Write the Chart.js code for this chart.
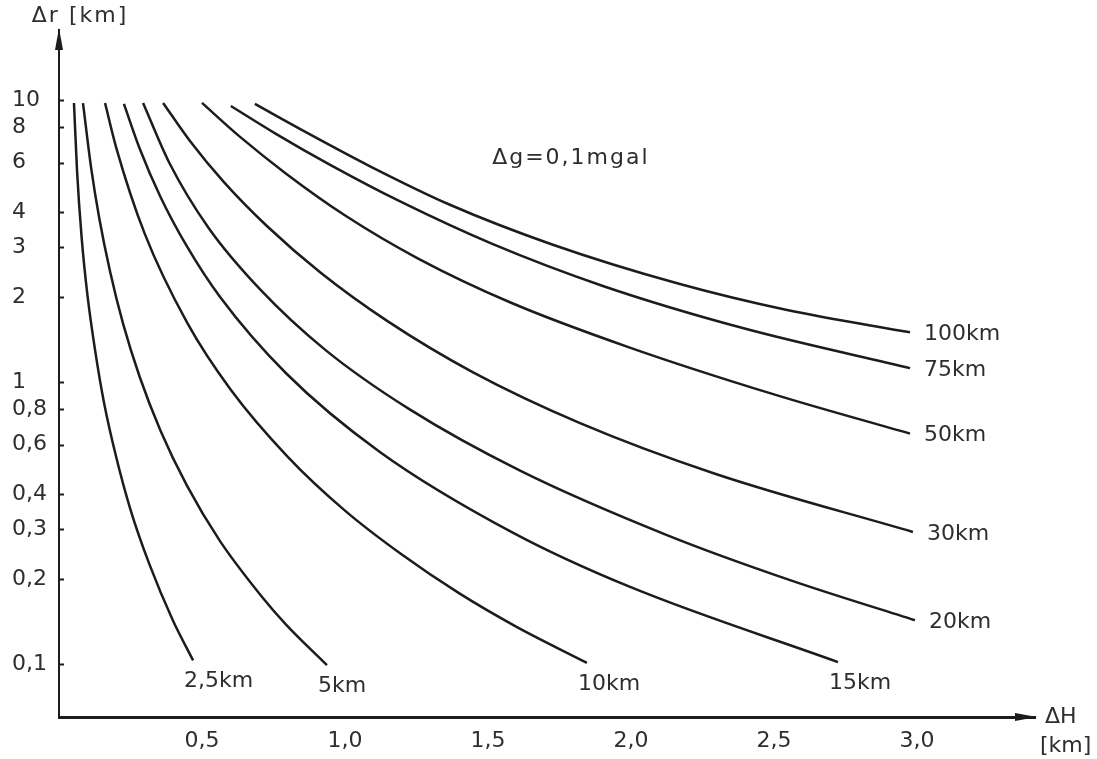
<!DOCTYPE html>
<html>
<head>
<meta charset="utf-8">
<script src="https://cdn.jsdelivr.net/npm/chart.js@4.4.1/dist/chart.umd.min.js"></script>
<style>
    html, body { margin: 0; padding: 0; background: #fff; }
    #wrap { width: 1097px; height: 759px; position: relative; }
</style>
</head>
<body>
<div id="wrap"><canvas id="chart"></canvas></div>
<script>
// tick values
const xTicks = [0.5, 1.0, 1.5, 2.0, 2.5, 3.0];
const yTicks = [10, 8, 6, 4, 3, 2, 1, 0.8, 0.6, 0.4, 0.3, 0.2, 0.1];

// curve names (distance)
const curveNames = ['2,5km', '5km', '10km', '15km', '20km', '30km', '50km', '75km', '100km'];

// dH [km] / dr [km], one pair per curve
const h2_5 = [0.0524, 0.0631, 0.0794, 0.100, 0.126, 0.158, 0.200, 0.251, 0.316, 0.398, 0.469];
const r2_5 = [9.75, 5.61, 3.23, 2.01, 1.30, 0.839, 0.542, 0.350, 0.226, 0.143, 0.103];

const h5 = [0.0839, 0.112, 0.141, 0.178, 0.224, 0.282, 0.355, 0.447, 0.562, 0.708, 0.794, 0.937];
const r5 = [9.75, 5.78, 3.80, 2.48, 1.61, 1.044, 0.672, 0.430, 0.274, 0.174, 0.138, 0.0991];

const h10 = [0.161, 0.200, 0.300, 0.450, 0.600, 0.800, 1.000, 1.200, 1.400, 1.600, 1.846];
const r10 = [9.75, 6.78, 3.35, 1.61, 0.941, 0.543, 0.350, 0.244, 0.178, 0.1355, 0.101];

const h15 = [0.227, 0.282, 0.355, 0.447, 0.562, 0.794, 1.122, 1.585, 1.995, 2.724];
const r15 = [9.68, 6.73, 4.53, 3.03, 2.01, 1.074, 0.565, 0.293, 0.188, 0.1016];

const h20 = [0.294, 0.387, 0.522, 0.705, 0.929, 1.225, 1.614, 2.128, 2.559, 2.993];
const r20 = [9.76, 5.95, 3.53, 2.12, 1.305, 0.801, 0.484, 0.286, 0.198, 0.143];

const h30 = [0.364, 0.458, 0.576, 0.726, 0.913, 1.150, 1.448, 1.822, 2.294, 2.986];
const r30 = [9.76, 7.15, 5.12, 3.58, 2.45, 1.64, 1.082, 0.715, 0.473, 0.294];

const h50 = [0.500, 0.630, 0.793, 0.998, 1.256, 1.581, 1.991, 2.506, 2.976];
const r50 = [9.76, 7.44, 5.49, 3.91, 2.74, 1.91, 1.33, 0.900, 0.656];

const h75 = [0.601, 0.757, 0.953, 1.200, 1.511, 1.902, 2.394, 2.976];
const r75 = [9.52, 7.60, 5.85, 4.33, 3.10, 2.19, 1.55, 1.12];

const h100 = [0.685, 0.863, 1.086, 1.367, 1.722, 2.168, 2.546, 2.976];
const r100 = [9.68, 7.69, 5.83, 4.25, 3.08, 2.23, 1.80, 1.50];

const curveH = [h2_5, h5, h10, h15, h20, h30, h50, h75, h100];
const curveR = [r2_5, r5, r10, r15, r20, r30, r50, r75, r100];

const INK = '#1c1c1c';
const TEXT = '#2e2e2e';
const FONT = '"DejaVu Sans", sans-serif';

function fmt(v) {
    return String(v).replace('.', ',');
}

const decorations = {
    id: 'decorations',
    afterDraw(chart) {
        const ctx = chart.ctx;
        const xs = chart.scales.x;
        const ys = chart.scales.y;
        const area = chart.chartArea;
        ctx.save();

        // small inward ticks on the y axis
        ctx.strokeStyle = INK;
        ctx.lineWidth = 2;
        yTicks.forEach(v => {
            const py = Math.round(ys.getPixelForValue(v)) + 0.5;
            ctx.beginPath();
            ctx.moveTo(area.left, py);
            ctx.lineTo(area.left + 5, py);
            ctx.stroke();
        });

        // arrow heads
        ctx.fillStyle = INK;
        ctx.beginPath();
        ctx.moveTo(area.left, area.top - 2);
        ctx.lineTo(area.left - 4, area.top + 20);
        ctx.lineTo(area.left + 4, area.top + 20);
        ctx.closePath();
        ctx.fill();

        ctx.beginPath();
        ctx.moveTo(area.right + 2, area.bottom);
        ctx.lineTo(area.right - 20, area.bottom - 4);
        ctx.lineTo(area.right - 20, area.bottom + 4);
        ctx.closePath();
        ctx.fill();

        // curve labels
        ctx.fillStyle = TEXT;
        ctx.font = '22px ' + FONT;
        ctx.textBaseline = 'middle';
        ctx.textAlign = 'left';
        curveNames.forEach((name, i) => {
            const h = curveH[i], r = curveR[i];
            const ex = xs.getPixelForValue(h[h.length - 1]);
            const ey = ys.getPixelForValue(r[r.length - 1]);
            if (h[h.length - 1] < 2.9) {
                ctx.fillText(name, ex - 9, ey + 21);
            } else {
                ctx.fillText(name, ex + 14, ey + 2);
            }
        });

        // annotation
        ctx.letterSpacing = '2px';
        ctx.textAlign = 'center';
        ctx.fillText('\u0394g=0,1mgal', xs.getPixelForValue(1.79), ys.getPixelForValue(6.2));
        ctx.fillText('\u0394r [km]', 80, 16);
        ctx.letterSpacing = '0px';

        // x axis title
        ctx.textAlign = 'left';
        ctx.fillText('\u0394H', area.right + 10, area.bottom);
        ctx.fillText('[km]', area.right + 5, area.bottom + 29);

        ctx.restore();
    }
};

const datasets = curveNames.map((name, i) => ({
    label: name,
    data: curveH[i].map((h, j) => ({ x: h, y: curveR[i][j] })),
    showLine: true,
    borderColor: INK,
    borderWidth: 2.5,
    pointRadius: 0,
    cubicInterpolationMode: 'monotone',
    fill: false
}));

new Chart(document.getElementById('chart'), {
    type: 'scatter',
    data: { datasets },
    options: {
        responsive: true,
        maintainAspectRatio: false,
        animation: false,
        layout: { padding: { left: 12, right: 62, top: 30, bottom: 0 } },
        plugins: {
            legend: { display: false },
            tooltip: { enabled: false }
        },
        scales: {
            x: {
                type: 'linear',
                min: 0,
                max: 3.413,
                afterBuildTicks: s => { s.ticks = xTicks.map(v => ({ value: v })); },
                afterFit: s => { s.height = 42; },
                grid: { display: false, drawTicks: false },
                border: { display: true, color: INK, width: 3 },
                ticks: {
                    padding: 11,
                    color: TEXT,
                    font: { family: FONT, size: 22 },
                    maxRotation: 0,
                    callback: v => fmt(v.toFixed(1))
                }
            },
            y: {
                type: 'logarithmic',
                min: 0.0649,
                max: 17.7,
                afterBuildTicks: s => { s.ticks = yTicks.map(v => ({ value: v })); },
                afterFit: s => { s.width = 47; },
                grid: { display: false, drawTicks: false },
                border: { display: true, color: INK, width: 2 },
                ticks: {
                    crossAlign: 'far',
                    autoSkip: false,
                    color: TEXT,
                    font: { family: FONT, size: 22 },
                    callback: v => fmt(v)
                }
            }
        }
    },
    plugins: [decorations]
});
</script>
</body>
</html>
